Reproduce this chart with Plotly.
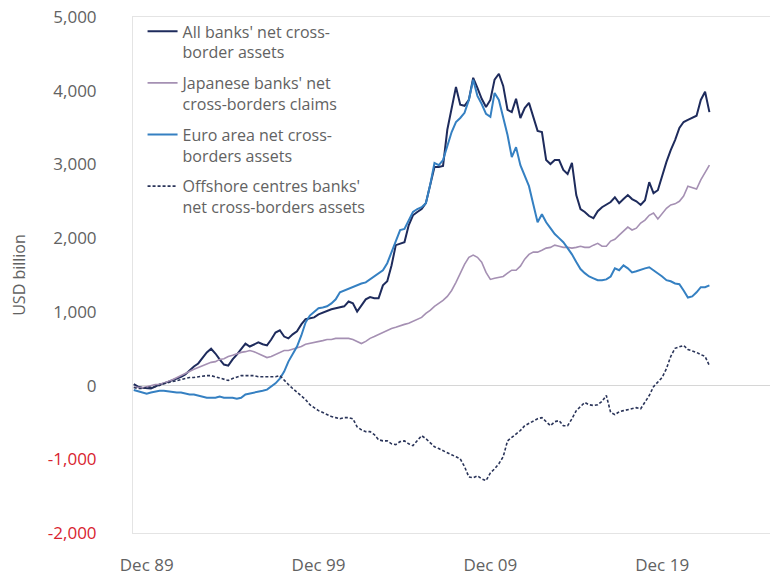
import pandas as pd
import plotly.graph_objects as go

# Quarter-end dates, 1989Q1 .. 2022Q3
quarters = pd.period_range("1989Q1", "2022Q3", freq="Q").end_time.normalize()

# USD billion
all_banks = [
    20, -15, -30, -40, -40, -15, 15, 30, 55, 80,
    95, 120, 150, 205, 260, 300, 370, 450, 500, 435,
    355, 285, 270, 355, 420, 500, 570, 530, 560, 585,
    560, 545, 625, 720, 750, 665, 640, 695, 735, 830,
    900, 910, 925, 965, 990, 1005, 1035, 1050, 1060, 1075,
    1140, 1115, 1005, 1090, 1170, 1200, 1185, 1185, 1360, 1415,
    1630, 1905, 1930, 1945, 2175, 2310, 2355, 2395, 2475, 2720,
    2965, 2965, 2980, 3470, 3765, 4050, 3810, 3795, 3875, 4175,
    4040, 3890, 3780, 3875, 4150, 4230, 4065, 3740, 3710, 3890,
    3630, 3765, 3835, 3630, 3455, 3440, 3060, 3005, 3060, 3060,
    2925, 2870, 3020, 2585, 2395, 2355, 2300, 2270, 2365, 2420,
    2450, 2490, 2555, 2475, 2530, 2585, 2530, 2500, 2450, 2515,
    2760, 2610, 2650, 2855, 3035, 3195, 3330, 3495, 3575, 3605,
    3630, 3660, 3875, 3985, 3710,
]

japanese_banks = [
    -20, -30, -30, -15, 0, 15, 15, 30, 55, 80,
    110, 135, 165, 190, 220, 245, 270, 300, 315, 325,
    355, 365, 395, 410, 435, 450, 460, 475, 460, 435,
    410, 380, 395, 420, 450, 475, 475, 490, 505, 530,
    560, 570, 585, 600, 610, 625, 625, 640, 640, 640,
    640, 625, 600, 570, 600, 640, 665, 695, 720, 750,
    775, 790, 815, 830, 845, 870, 900, 925, 980, 1020,
    1075, 1115, 1155, 1210, 1290, 1400, 1535, 1645, 1740, 1770,
    1740, 1675, 1535, 1440, 1455, 1470, 1480, 1525, 1565, 1565,
    1620, 1715, 1780, 1810, 1810, 1835, 1865, 1875, 1905, 1890,
    1875, 1875, 1865, 1875, 1890, 1875, 1875, 1905, 1930, 1890,
    1890, 1960, 1985, 2040, 2095, 2150, 2110, 2135, 2205, 2245,
    2310, 2340, 2260, 2340, 2405, 2450, 2465, 2500, 2570, 2705,
    2680, 2665, 2790, 2895, 2990,
]

euro_area = [
    -60, -80, -95, -110, -95, -80, -70, -70, -80, -80,
    -95, -95, -110, -120, -120, -135, -150, -165, -165, -165,
    -150, -165, -165, -165, -180, -165, -120, -110, -95, -80,
    -70, -55, -15, 30, 95, 190, 325, 420, 530, 680,
    855, 950, 1005, 1050, 1060, 1075, 1115, 1170, 1265, 1290,
    1320, 1335, 1360, 1385, 1400, 1440, 1480, 1525, 1565, 1660,
    1810, 1970, 2110, 2125, 2245, 2355, 2395, 2420, 2475, 2720,
    3020, 2990, 3060, 3265, 3440, 3575, 3630, 3700, 3875, 4150,
    3930, 3820, 3685, 3645, 3970, 3875, 3645, 3400, 3100, 3235,
    2990, 2855, 2705, 2460, 2215, 2325, 2215, 2135, 2055, 2000,
    1945, 1865, 1780, 1675, 1580, 1525, 1480, 1455, 1430, 1430,
    1440, 1480, 1590, 1565, 1630, 1590, 1535, 1550, 1565, 1590,
    1605, 1565, 1525, 1480, 1430, 1415, 1385, 1375, 1290, 1195,
    1210, 1265, 1335, 1335, 1360,
]

offshore_centres = [
    -25, -40, -40, -25, -25, -15, 0, 25, 40, 55,
    70, 80, 95, 110, 110, 120, 135, 135, 135, 120,
    110, 95, 70, 95, 120, 135, 135, 135, 135, 120,
    120, 120, 120, 120, 135, 70, 15, -40, -95, -150,
    -190, -260, -300, -340, -365, -395, -420, -435, -450, -435,
    -435, -450, -560, -600, -625, -625, -665, -735, -750, -750,
    -790, -800, -760, -750, -790, -815, -750, -680, -720, -775,
    -830, -855, -885, -910, -940, -965, -995, -1100, -1240, -1250,
    -1225, -1265, -1290, -1185, -1130, -1060, -965, -750, -705, -655,
    -610, -545, -515, -490, -450, -435, -490, -545, -490, -475,
    -545, -545, -450, -340, -285, -230, -260, -270, -260, -215,
    -135, -365, -395, -355, -340, -325, -315, -300, -315, -230,
    -135, -15, 55, 110, 230, 395, 505, 530, 545, 490,
    475, 450, 420, 395, 270,
]

series_names = [
    "All banks' net cross-<br>border assets",
    "Japanese banks' net<br>cross-borders claims",
    "Euro area net cross-<br>borders assets",
    "Offshore centres banks'<br>net cross-borders assets",
]

x_tick_dates = ["1989-12-31", "1999-12-31", "2009-12-31", "2019-12-31"]
x_tick_labels = ["Dec 89", "Dec 99", "Dec 09", "Dec 19"]
y_tick_values = [-2000, -1000, 0, 1000, 2000, 3000, 4000, 5000]

TEXT = "#626262"
NEG = "#d8232f"
FONT = "Open Sans"


def fmt(v):
    s = f"{v:,}"
    return f"<span style='color:{NEG}'>{s}</span>" if v < 0 else s


styles = [
    dict(color="#1e2b5c", width=2.0, dash="solid"),
    dict(color="#a590b3", width=1.6, dash="solid"),
    dict(color="#3580c2", width=2.0, dash="solid"),
    dict(color="#2a3459", width=1.6, dash="3px,2px"),
]

fig = go.Figure()
for i, (name, values, line) in enumerate(
    zip(series_names, [all_banks, japanese_banks, euro_area, offshore_centres], styles)
):
    fig.add_trace(
        go.Scatter(
            x=quarters,
            y=values,
            mode="lines",
            name=name,
            legendgroup=f"g{i}",
            line=line,
        )
    )

fig.update_layout(
    width=770,
    height=579,
    margin=dict(l=133, r=0, t=17, b=46),
    paper_bgcolor="white",
    plot_bgcolor="white",
    font=dict(family=FONT, color=TEXT),
    showlegend=True,
    legend=dict(
        x=0.015,
        y=1.005,
        xanchor="left",
        yanchor="top",
        valign="top",
        bgcolor="rgba(0,0,0,0)",
        font=dict(family=FONT, size=16, color=TEXT),
        tracegroupgap=7,
        itemwidth=30,
    ),
    xaxis=dict(
        type="date",
        range=["1989-03-15", "2026-04-10"],
        tickvals=x_tick_dates,
        ticktext=x_tick_labels,
        tickfont=dict(size=17, color=TEXT),
        showgrid=False,
        zeroline=False,
        showline=True,
        linecolor="#e4e4e4",
        linewidth=1,
        mirror=True,
        ticks="",
        ticklabelstandoff=17,
    ),
    yaxis=dict(
        range=[-2000, 5000],
        tickvals=y_tick_values,
        ticktext=[fmt(v) for v in y_tick_values],
        tickfont=dict(size=17, color=TEXT),
        showgrid=False,
        zeroline=True,
        zerolinecolor="#d6d6d6",
        zerolinewidth=1,
        showline=True,
        linecolor="#e4e4e4",
        linewidth=1,
        ticks="",
        ticklabelstandoff=32,
        title=dict(text="USD billion", font=dict(size=16, color=TEXT), standoff=18),
    ),
)

fig.write_html("out.html")
